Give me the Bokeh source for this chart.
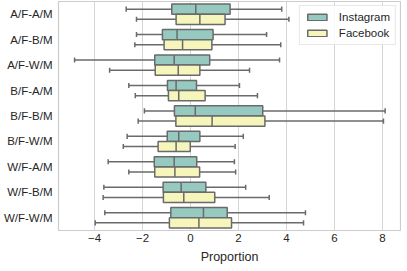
from bokeh.plotting import figure
from bokeh.models import FactorRange, Range1d, ColumnDataSource, FixedTicker, Legend
from bokeh.transform import dodge
from bokeh.embed import file_html
from bokeh.resources import INLINE

cats = ["A/F-A/M", "A/F-B/M", "A/F-W/M", "B/F-A/M", "B/F-B/M",
        "B/F-W/M", "W/F-A/M", "W/F-B/M", "W/F-W/M"]

# Instagram box stats: whisker low, Q1, median, Q3, whisker high
ig_lo = [-2.68, -2.25, -4.83, -2.57, -1.92, -2.64, -3.43, -3.61, -3.57]
ig_q1 = [-0.78, -1.17, -1.49, -0.96, -0.67, -0.97, -1.51, -1.14, -0.82]
ig_med = [0.22, -0.56, -0.68, -0.60, 0.20, -0.49, -0.68, -0.39, 0.54]
ig_q3 = [1.65, 0.94, 0.80, 0.25, 3.01, 0.39, 0.26, 0.64, 1.53]
ig_hi = [3.80, 3.17, 3.71, 2.04, 8.11, 2.20, 1.83, 2.30, 4.79]

# Facebook box stats
fb_lo = [-2.25, -2.32, -3.37, -2.30, -2.18, -2.80, -2.57, -3.64, -3.97]
fb_q1 = [-0.60, -1.10, -1.47, -0.92, -0.61, -1.35, -1.49, -1.13, -0.88]
fb_med = [0.39, -0.33, -0.51, -0.49, 0.90, -0.60, -0.65, -0.28, 0.35]
fb_q3 = [1.44, 0.89, 0.39, 0.61, 3.10, -0.01, 0.38, 1.01, 1.71]
fb_hi = [4.10, 3.76, 2.46, 2.79, 8.04, 1.86, 1.88, 3.28, 4.71]

x_ticks = [-4, -2, 0, 2, 4, 6, 8]
x_label = "Proportion"

FONT = "Liberation Sans"
TXT = "#262626"
EDGE = "#6a6a6a"
GRID = "#d5d5d5"
X0, X1 = -5.5, 8.75

p = figure(frame_width=342, frame_height=229,
           y_range=FactorRange(factors=cats[::-1], range_padding=0),
           x_range=Range1d(X0, X1),
           output_backend="svg", toolbar_location=None,
           min_border_left=55, min_border_right=1, min_border_top=1,
           min_border_bottom=0)

p.outline_line_color = "#cccccc"
p.outline_line_width = 1.2
p.background_fill_color = "white"
p.border_fill_color = "white"

p.ygrid.grid_line_color = None
p.xgrid.grid_line_color = GRID
p.xgrid.grid_line_width = 1.0
p.xgrid.ticker = FixedTicker(ticks=x_ticks)

p.xaxis.ticker = FixedTicker(ticks=x_ticks)
p.xaxis.major_label_overrides = {t: (str(t).replace("-", "\u2212")) for t in x_ticks}
p.xaxis.axis_label = x_label

for ax in (p.xaxis, p.yaxis):
    ax.axis_line_color = None
    ax.major_tick_line_color = None
    ax.minor_tick_line_color = None
    ax.major_tick_out = 0
    ax.major_tick_in = 0
    ax.major_label_text_font = FONT
    ax.major_label_text_font_size = "11.5px"
    ax.major_label_text_color = TXT
    ax.axis_label_text_font = FONT
    ax.axis_label_text_font_style = "normal"
    ax.axis_label_text_font_size = "12.5px"
    ax.axis_label_text_color = TXT

p.yaxis.major_label_standoff = 6
p.xaxis.major_label_standoff = 3
p.xaxis.axis_label_standoff = 5

series = [
    ("Instagram", "#96cac1", ig_lo, ig_q1, ig_med, ig_q3, ig_hi, 0.2),
    ("Facebook", "#f5f5bc", fb_lo, fb_q1, fb_med, fb_q3, fb_hi, -0.2),
]

items = []
for name, color, lo, q1, med, q3, hi, off in series:
    src = ColumnDataSource(dict(cat=cats, lo=lo, q1=q1, med=med, q3=q3, hi=hi))
    yc = dodge("cat", off, range=p.y_range)
    # whiskers
    p.segment(x0="lo", x1="q1", y0=yc, y1=yc, source=src,
              line_color=EDGE, line_width=1.5)
    p.segment(x0="q3", x1="hi", y0=yc, y1=yc, source=src,
              line_color=EDGE, line_width=1.5)
    # caps
    for col in ("lo", "hi"):
        p.segment(x0=col, x1=col,
                  y0=dodge("cat", off - 0.1, range=p.y_range),
                  y1=dodge("cat", off + 0.1, range=p.y_range),
                  source=src, line_color=EDGE, line_width=1.5)
    # boxes
    r = p.hbar(y=yc, left="q1", right="q3", height=0.4, source=src,
               fill_color=color, line_color=EDGE, line_width=1.5)
    items.append((name, [r]))
    # medians
    p.segment(x0="med", x1="med",
              y0=dodge("cat", off - 0.2, range=p.y_range),
              y1=dodge("cat", off + 0.2, range=p.y_range),
              source=src, line_color=EDGE, line_width=1.5)

legend = Legend(items=items, location="top_right")
legend.label_text_font = FONT
legend.label_text_font_size = "11.5px"
legend.label_text_color = TXT
legend.glyph_width = 24
legend.glyph_height = 8
legend.label_height = 12
legend.label_standoff = 10
legend.spacing = 4
legend.padding = 5
legend.margin = 4
legend.border_line_color = "#d0d0d0"
legend.border_line_width = 1
legend.background_fill_alpha = 0.85
p.add_layout(legend)

open("out.html", "w").write(file_html(p, INLINE))
